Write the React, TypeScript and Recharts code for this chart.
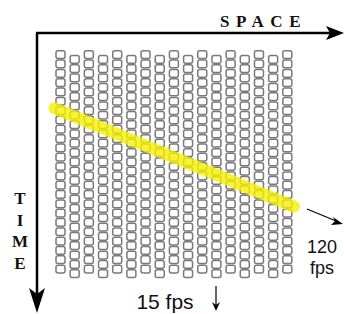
import { ComposedChart, Bar, XAxis, YAxis, ReferenceLine, Customized } from "recharts";

// one column of frames per camera position
const columns = [1, 2, 3, 4, 5, 6, 7, 8, 9, 10, 11, 12, 13, 14, 15, 16, 17];
// odd cameras start at t=0, even ones half a frame later
const frameStart = [0, 0.5, 0, 0.5, 0, 0.5, 0, 0.5, 0, 0.5, 0, 0.5, 0, 0.5, 0, 0.5, 0];
const frameCount = [24, 24, 24, 24, 24, 24, 24, 24, 24, 24, 24, 24, 24, 24, 24, 24, 24];

// the highlighted 120 fps slice
const sliceStart = { x: 0.6, y: 6.25 };
const sliceEnd = { x: 17.5, y: 16.8 };

const data = columns.map((c, i) => ({
  col: c,
  span: [frameStart[i], frameStart[i] + frameCount[i]],
  frames: frameCount[i],
}));

function FrameColumn(props: any) {
  const { x, y, width, height, payload } = props;
  const top = Math.min(y, y + height);
  const h = Math.abs(height);
  const n = payload.frames;
  const pitch = h / n;
  const cells = [];
  for (let k = 0; k < n; k++) {
    cells.push(
      <rect
        key={k}
        x={x}
        y={top + k * pitch + 0.8}
        width={width}
        height={pitch - 1.6}
        rx={2}
        fill="#fff"
        stroke="#7a7a7a"
        strokeWidth={1.5}
      />
    );
  }
  return <g>{cells}</g>;
}

function Decorations() {
  const serif = "'Liberation Serif', 'DejaVu Serif', serif";
  const sans = "'Liberation Sans', Arial, sans-serif";
  return (
    <g>
      {/* space axis */}
      <line x1={36} y1={33} x2={332} y2={33} stroke="#000" strokeWidth={2.5} />
      <path d="M344,33 L326,26 L330,33 L326,40 Z" fill="#000" />
      <text x={220} y={27} fontFamily={serif} fontWeight="bold" fontSize={17} letterSpacing={6.5} fill="#111">
        SPACE
      </text>
      {/* time axis */}
      <line x1={37} y1={33} x2={37} y2={300} stroke="#000" strokeWidth={2.5} />
      <path d="M37,313 L29,288 L37,294 L45,288 Z" fill="#000" />
      {["T", "I", "M", "E"].map((ch, i) => (
        <text key={ch} x={20} y={204 + i * 21.5} textAnchor="middle" fontFamily={serif} fontWeight="bold" fontSize={17} fill="#111">
          {ch}
        </text>
      ))}
      {/* 120 fps */}
      <line x1={307} y1={209} x2={336} y2={221} stroke="#000" strokeWidth={1.2} />
      <path d="M343,224 L333,217 L335,221 L331,225 Z" fill="#000" />
      <text x={322} y={253} textAnchor="middle" fontFamily={sans} fontSize={18} fill="#111">120</text>
      <text x={322} y={274} textAnchor="middle" fontFamily={sans} fontSize={18} fill="#111">fps</text>
      {/* 15 fps */}
      <text x={165} y={309} textAnchor="middle" fontFamily={sans} fontSize={21} fill="#111">15 fps</text>
      <line x1={216} y1={286} x2={216} y2={308} stroke="#000" strokeWidth={1.2} />
      <path d="M216,311 L212,302 L216,305 L220,302 Z" fill="#000" />
    </g>
  );
}

export default function App() {
  return (
    <div style={{ position: "absolute", left: 0, top: 0, width: 344, height: 314, background: "#fff" }}>
      <ComposedChart width={344} height={314} data={data} margin={{ top: 50, right: 50, bottom: 31, left: 53 }}>
        <XAxis dataKey="col" type="number" domain={[0.5, 17.5]} hide />
        <YAxis type="number" domain={[0, 25]} reversed hide />
        <Bar dataKey="span" barSize={9} shape={FrameColumn} isAnimationActive={false} />
        <ReferenceLine
          segment={[sliceStart, sliceEnd]}
          stroke="#f5f000"
          strokeOpacity={0.8}
          strokeWidth={12}
          strokeLinecap="round"
          ifOverflow="visible"
        />
        <Customized component={Decorations} />
      </ComposedChart>
    </div>
  );
}
